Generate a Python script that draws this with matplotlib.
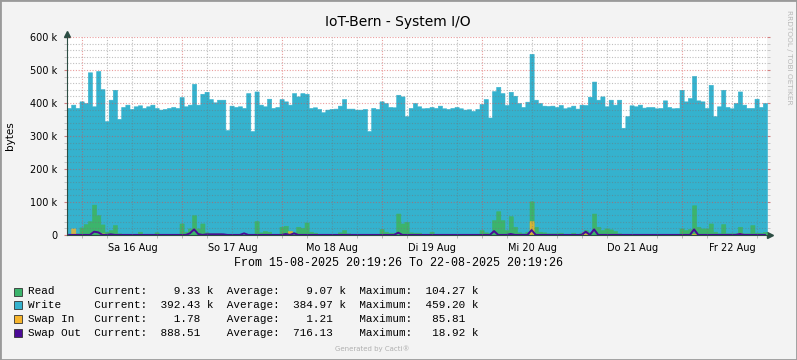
import numpy as np
import matplotlib
matplotlib.use("Agg")
import matplotlib.pyplot as plt
from matplotlib.patches import Rectangle
from matplotlib.ticker import FixedLocator, FuncFormatter

# hourly samples (k bytes), start 15-08-2025 20:19:26
write = [
    385, 395, 385, 405, 400, 493, 390, 497, 442, 345,
    410, 440, 352, 388, 395, 382, 390, 393, 385, 390,
    395, 385, 380, 382, 385, 388, 385, 418, 390, 395,
    458, 395, 428, 434, 412, 402, 410, 410, 318, 392,
    388, 390, 385, 430, 315, 435, 395, 390, 413, 385,
    388, 412, 405, 395, 430, 420, 430, 428, 385, 387,
    382, 372, 380, 382, 383, 392, 412, 383, 383, 380,
    380, 382, 315, 385, 382, 405, 400, 388, 387, 425,
    420, 360, 385, 400, 390, 384, 385, 388, 385, 392,
    384, 382, 385, 388, 384, 380, 381, 376, 382, 397,
    412, 356, 436, 449, 430, 394, 434, 422, 400, 388,
    404, 549, 410, 400, 392, 391, 392, 388, 394, 384,
    387, 392, 383, 395, 394, 419, 465, 410, 420, 390,
    410, 395, 410, 325, 360, 393, 390, 395, 386, 388,
    388, 384, 385, 408, 388, 384, 385, 440, 405, 415,
    482, 408, 405, 385, 455, 360, 390, 440, 388, 384,
    400, 435, 395, 385, 385, 413, 388, 400,
]
read = [
    3, 5, 5, 23, 33, 42, 92, 60, 32, 10,
    15, 30, 5, 2, 2, 2, 2, 10, 2, 2,
    2, 8, 1, 1, 1, 1, 1, 35, 10, 20,
    60, 20, 35, 8, 5, 5, 5, 2, 2, 2,
    2, 2, 2, 2, 2, 42, 8, 12, 10, 3,
    3, 25, 28, 12, 8, 25, 22, 38, 10, 7,
    2, 2, 2, 2, 2, 8, 15, 5, 2, 2,
    2, 2, 2, 2, 2, 18, 10, 7, 7, 65,
    35, 40, 8, 7, 7, 2, 2, 10, 1, 1,
    1, 1, 1, 1, 1, 1, 1, 1, 1, 15,
    8, 5, 45, 72, 45, 15, 57, 25, 8, 5,
    10, 102, 25, 10, 8, 5, 5, 5, 7, 2,
    2, 7, 2, 7, 15, 10, 65, 25, 15, 20,
    17, 12, 5, 3, 3, 3, 3, 3, 3, 3,
    3, 3, 3, 3, 3, 3, 3, 20, 15, 18,
    90, 25, 20, 20, 35, 10, 5, 33, 5, 5,
    5, 25, 5, 5, 30, 7, 7, 9,
]
swap_in_hours = [1, 8, 53, 80, 111, 124, 150, 161]
swap_in_vals = [20, 5, 12, 3, 42, 5, 4, 5]
swap_out_hours = [6, 7, 10, 29, 30, 31, 33, 34, 35, 36, 37, 42, 52, 54, 79,
                  102, 106, 111, 124, 126, 150, 161]
swap_out_vals = [10, 8, 2, 5, 17, 3, 2, 2, 2, 2, 2, 5, 3, 5, 7,
                 12, 3, 15, 10, 17, 17, 3]

day_labels = ["Sa 16 Aug", "So 17 Aug", "Mo 18 Aug", "Di 19 Aug",
              "Mi 20 Aug", "Do 21 Aug", "Fr 22 Aug"]
legend_rows = [
    ("Read", "9.33 k", "9.07 k", "104.27 k"),
    ("Write", "392.43 k", "384.97 k", "459.20 k"),
    ("Swap In", "1.78", "1.21", "85.81"),
    ("Swap Out", "888.51", "716.13", "18.92 k"),
]
colors = ["#3cb46c", "#35b2ce", "#f7b52c", "#4b0a96"]

W, H = 797, 360
def fx(px): return px / W
def fy(py): return 1 - py / H

fig = plt.figure(figsize=(W / 100, H / 100), dpi=100, facecolor="#f3f3f3")
ax = fig.add_axes([fx(67), fy(235), 700 / W, 198 / H])
ax.set_facecolor("white")

n = len(write)
edges = np.arange(n + 1)
swap_in = np.zeros(n)
swap_in[swap_in_hours] = swap_in_vals
swap_out = np.full(n, 0.3)
swap_out[swap_out_hours] = swap_out_vals

def steps(vals):
    v = np.asarray(vals, dtype=float) * 1000
    return np.append(v, v[-1])

def area(vals, c, z, alpha=1.0):
    ax.fill_between(edges, steps(vals), step="post", facecolor=c, edgecolor=c,
                    lw=0.4, alpha=alpha, snap=False, zorder=z)

area(write, colors[1], 2)
area(read, colors[0], 3)
area(swap_in, colors[2], 4, alpha=0.8)
ax.plot(edges[:-1] + 0.5, swap_out * 1000, color=colors[3], lw=1.4, zorder=5)

ax.set_xlim(0, n)
ax.set_ylim(0, 600000)

# grid
first_midnight = 3 + 40 / 60 + 34 / 3600
six_hours = np.arange(first_midnight, n, 6)
minor_col = (0.45, 0.45, 0.45, 0.45)
major_col = (0.85, 0.3, 0.3, 0.55)
dots = (0, (1, 1.5))
for h in six_hours:
    is_major = abs(((h - first_midnight) % 24)) < 1e-6
    ax.axvline(h, color=major_col if is_major else minor_col, ls=dots, lw=0.8, zorder=6)
for v in range(20000, 600001, 20000):
    ax.axhline(v, color=major_col if v % 100000 == 0 else minor_col, ls=dots, lw=0.8, zorder=6)

ax.yaxis.set_major_locator(FixedLocator(range(0, 600001, 100000)))
ax.yaxis.set_minor_locator(FixedLocator(range(0, 600001, 20000)))
ax.yaxis.set_major_formatter(FuncFormatter(lambda v, p: "0" if v == 0 else f"{v / 1000:.0f} k"))
ax.set_xticks(first_midnight + 12 + 24 * np.arange(len(day_labels)), day_labels)
ax.xaxis.set_minor_locator(FixedLocator(six_hours))
ax.tick_params(axis="x", which="major", length=0, pad=6, labelsize=7)
ax.tick_params(axis="x", which="minor", length=2, color="#b0b0b0")
ax.tick_params(axis="y", which="major", length=2, color="#d08080", pad=5, labelsize=7, right=True)
ax.tick_params(axis="y", which="minor", length=2, color="#c0c0c0", right=True)

axis_col = "#2c4d43"
for s in ["top", "right"]:
    ax.spines[s].set_visible(False)
for s in ["left", "bottom"]:
    ax.spines[s].set_color(axis_col)
    ax.spines[s].set_zorder(7)
ax.plot(0, 1 + 3 / 198, marker="^", ms=4, color=axis_col, transform=ax.transAxes, clip_on=False)
ax.plot(1 + 3 / 700, 0, marker=">", ms=4, color=axis_col, transform=ax.transAxes, clip_on=False)

fig.text(fx(398), fy(22), "IoT-Bern - System I/O", ha="center", va="center", fontsize=10)
fig.text(fx(10), fy(136), "bytes", rotation=90, ha="center", va="center", fontsize=7.5)
fig.text(fx(789), fy(57), "RRDTOOL / TOBI OETIKER", rotation=270, ha="center", va="center",
         fontsize=5.3, color="#b8b8b8")
fig.text(fx(398), fy(263), "From 15-08-2025 20:19:26 To 22-08-2025 20:19:26",
         ha="center", va="center", fontsize=8.4, family="Liberation Mono")

for i, (name, cur, avg, mx) in enumerate(legend_rows):
    y = 291.5 + i * 13.9
    fig.patches.append(Rectangle((fx(14), fy(y + 4)), 8 / W, 8 / H, transform=fig.transFigure,
                                 facecolor=colors[i], edgecolor="#333333", lw=0.6))
    def col(s):
        num, _, unit = s.partition(" ")
        return f"{num:>8} {unit:<1}"
    line = f"{name:<10}Current:{col(cur)}  Average:{col(avg)}  Maximum:{col(mx)}"
    fig.text(fx(28.3), fy(y), line, ha="left", va="center", fontsize=7.9, family="Liberation Mono")

fig.text(fx(372), fy(349), "Generated by Cacti\u00ae", ha="center", va="center", fontsize=5, color="#b0b0b0")
fig.patches.append(Rectangle((0, 0), 1, 1, transform=fig.transFigure, fill=False,
                             edgecolor="#9a9a9a", lw=2))

fig.savefig("out.png", dpi=100, facecolor=fig.get_facecolor())
